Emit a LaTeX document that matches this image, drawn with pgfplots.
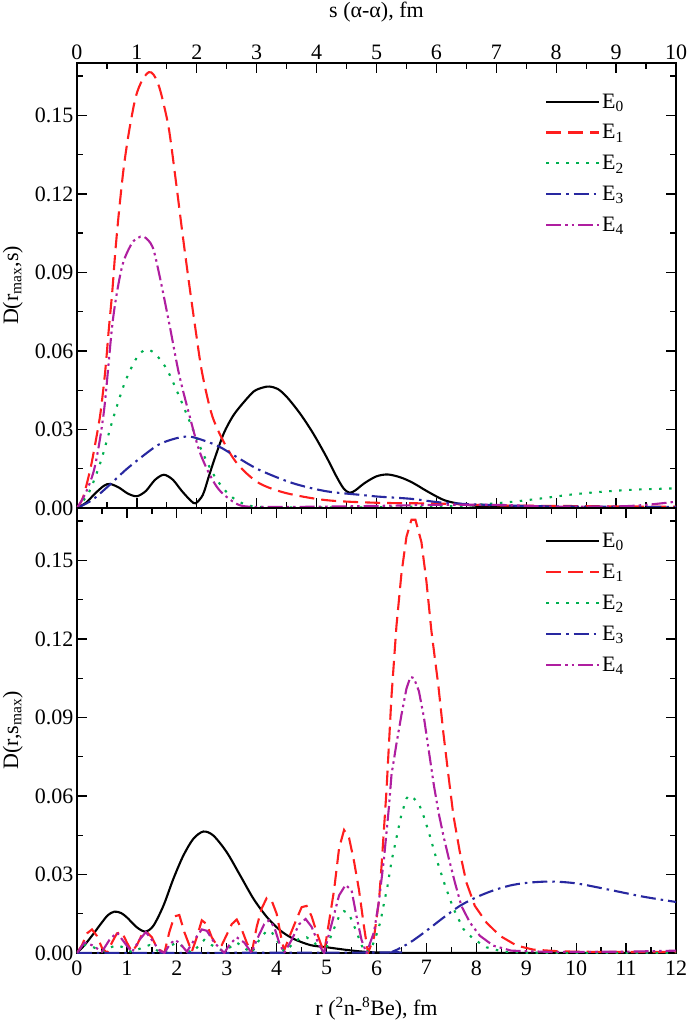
\documentclass[border=0pt]{standalone}
\usepackage{fontspec}
\setmainfont{Liberation Serif}
\usepackage{pgfplots}
\pgfplotsset{compat=1.18}
\definecolor{cred}{RGB}{255,30,30}
\definecolor{cgreen}{RGB}{0,175,80}
\definecolor{cblue}{RGB}{40,40,160}
\definecolor{cmag}{RGB}{175,30,160}
\newcommand{\myfs}{\fontsize{22}{26}\selectfont}
\pgfplotsset{
  common/.style={
    scale only axis, width=599pt, height=445pt,
    ymin=0, ymax=0.17,
    ytick={0,0.03,0.06,0.09,0.12,0.15},
    minor ytick={0.015,0.045,0.075,0.105,0.135,0.165},
    yticklabel style={/pgf/number format/.cd,fixed,fixed zerofill,precision=2},
    /pgf/number format/assume math mode=true,
    minor x tick num=1,
    tick align=inside,
    major tick length=10pt, minor tick length=6pt,
    every tick/.style={black, line width=1.3pt},
    axis line style={line width=1.5pt},
    tick label style={font=\myfs},
    label style={font=\myfs},
    ylabel style={at={(axis description cs:-0.107,0.5)}, anchor=center},
    yticklabel pos=left,
    legend cell align=left,
    legend style={draw=none, fill=none, font=\myfs, row sep=11pt, inner sep=0pt},
    legend image code/.code={\draw[##1] (0pt,0pt) -- (53pt,0pt);},
    every axis plot/.append style={line width=2.1pt},
  },
  s0/.style={black, solid},
  s1/.style={cred, dash pattern=on 15pt off 7pt},
  s2/.style={cgreen, dash pattern=on 2.5pt off 7.5pt},
  s3/.style={cblue, dash pattern=on 15pt off 5pt on 2.5pt off 5pt},
  s4/.style={cmag, dash pattern=on 15pt off 4pt on 2.5pt off 4pt on 2.5pt off 4pt},
}
\pgfplotstableread{
x y
0 0
0.15 0.002
0.3 0.0055
0.45 0.0085
0.55 0.0092
0.7 0.0078
0.85 0.0055
1.0 0.0045
1.15 0.0065
1.3 0.0107
1.45 0.0127
1.6 0.0108
1.75 0.0065
1.9 0.0028
1.98 0.0018
2.1 0.005
2.2 0.012
2.3 0.019
2.45 0.0285
2.6 0.035
2.75 0.0395
2.95 0.0445
3.1 0.046
3.21 0.0464
3.35 0.0455
3.5 0.0425
3.72 0.0362
3.94 0.0286
4.16 0.0197
4.33 0.0121
4.45 0.0075
4.55 0.0058
4.65 0.0068
4.8 0.0095
5.0 0.0121
5.19 0.0128
5.4 0.0117
5.6 0.0097
5.86 0.0062
6.13 0.003
6.41 0.0015
6.7 0.0008
7.2 0.0004
8 0.0001
10 0
}\tA
\pgfplotstableread{
x y
0 0
0.1 0.004
0.22 0.0146
0.3 0.024
0.39 0.036
0.47 0.052
0.53 0.068
0.59 0.083
0.64 0.098
0.7 0.113
0.78 0.13
0.87 0.144
0.98 0.157
1.09 0.1635
1.2 0.1665
1.28 0.1655
1.37 0.161
1.45 0.154
1.54 0.144
1.65 0.125
1.76 0.105
1.87 0.086
1.98 0.068
2.09 0.0515
2.26 0.035
2.49 0.0235
2.71 0.016
3.04 0.0095
3.49 0.0057
4.16 0.003
5.0 0.002
6 0.0017
7 0.001
8 0.0008
9 0.0006
10 0.0005
}\tB
\pgfplotstableread{
x y
0 0
0.2 0.006
0.4 0.018
0.6 0.034
0.8 0.048
1.0 0.0575
1.15 0.0605
1.3 0.059
1.5 0.053
1.7 0.043
1.9 0.032
2.1 0.021
2.3 0.012
2.5 0.006
2.7 0.0025
3.0 0.0005
4 0.0002
5 0.0003
5.5 0.0005
6.0 0.0006
6.4 0.0008
7.0 0.0018
7.4 0.0027
7.8 0.0038
8.2 0.005
8.6 0.0059
9.0 0.0066
9.4 0.0071
10 0.0075
}\tC
\pgfplotstableread{
x y
0 0
0.25 0.003
0.53 0.0085
0.81 0.0145
1.09 0.0197
1.37 0.0243
1.65 0.0266
1.87 0.0273
2.09 0.026
2.37 0.0235
2.65 0.0197
3.04 0.0146
3.6 0.0095
4.16 0.0064
4.74 0.005
5.0 0.0044
5.58 0.0035
6.13 0.002
6.97 0.0011
8 0.0006
10 0.0004
}\tD
\pgfplotstableread{
x y
0 0
0.15 0.006
0.3 0.016
0.45 0.037
0.6 0.072
0.75 0.092
0.9 0.1005
1.0 0.103
1.12 0.1036
1.26 0.0998
1.37 0.0896
1.54 0.0705
1.70 0.0515
1.87 0.036
2.04 0.022
2.21 0.013
2.37 0.007
2.6 0.0025
2.82 0.0006
3.5 0.0004
5 0.0008
6 0.0012
7 0.0012
8 0.0005
9 0.0006
9.5 0.0012
10 0.0024
}\tE
% bottom panel
\pgfplotstableread{
x y
0 0
0.15 0.003
0.3 0.0066
0.5 0.0117
0.62 0.0145
0.75 0.0158
0.88 0.0153
1.0 0.0136
1.2 0.0098
1.37 0.0082
1.53 0.0104
1.73 0.018
1.93 0.0283
2.13 0.0372
2.33 0.0436
2.53 0.0464
2.73 0.0449
3.0 0.0385
3.27 0.0296
3.54 0.0206
3.81 0.0136
4.08 0.0085
4.34 0.0054
4.68 0.003
5.0 0.0022
5.35 0.0013
5.68 0.0006
6.02 0.0002
7 0
12 0
}\bA
\pgfplotstableread{
x y
0 0
0.1 0.003
0.2 0.0075
0.3 0.009
0.4 0.0065
0.5 0.002
0.6 0
0.7 0.004
0.8 0.0075
0.9 0.008
1.0 0.004
1.1 0.0005
1.2 0.003
1.3 0.007
1.4 0.008
1.5 0.006
1.6 0.002
1.75 0
1.85 0.008
1.95 0.014
2.05 0.0145
2.15 0.008
2.3 0.0005
2.4 0.006
2.5 0.0125
2.6 0.011
2.7 0.006
2.8 0.003
2.9 0.003
3.0 0.007
3.1 0.011
3.2 0.0128
3.3 0.009
3.4 0.004
3.5 0
3.6 0.01
3.7 0.017
3.8 0.021
3.9 0.02
4.0 0.015
4.1 0.005
4.15 0.001
4.25 0.006
4.4 0.013
4.5 0.0175
4.6 0.018
4.7 0.014
4.8 0.008
4.95 0
5.05 0.012
5.15 0.024
5.25 0.04
5.35 0.047
5.45 0.044
5.55 0.035
5.65 0.024
5.75 0.01
5.83 0
5.95 0.006
6.05 0.02
6.1 0.033
6.2 0.062
6.3 0.098
6.4 0.125
6.5 0.145
6.6 0.159
6.7 0.1655
6.78 0.1655
6.9 0.157
7.0 0.142
7.1 0.123
7.24 0.102
7.34 0.084
7.44 0.068
7.54 0.0526
7.67 0.0385
7.8 0.027
7.97 0.018
8.2 0.0117
8.47 0.0066
8.81 0.0028
9.14 0.0013
9.7 0.0006
10.5 0.0004
12 0.0004
}\bB
\pgfplotstableread{
x y
0 0
0.15 0.003
0.25 0.003
0.5 0.0005
0.65 0.002
0.8 0.003
0.95 0.002
1.1 0.0003
1.3 0.002
1.45 0.003
1.6 0.001
1.75 0
1.9 0.003
2.0 0.004
2.15 0.002
2.3 0
2.45 0.003
2.55 0.005
2.7 0.003
2.9 0.001
3.05 0.002
3.2 0.004
3.35 0.002
3.5 0
3.65 0.005
3.8 0.0085
3.9 0.008
4.0 0.005
4.15 0.0005
4.3 0.003
4.45 0.0055
4.6 0.006
4.75 0.004
4.95 0
5.1 0.007
5.25 0.014
5.35 0.016
5.45 0.015
5.58 0.009
5.7 0.003
5.78 0
5.9 0.002
5.98 0.0058
6.08 0.012
6.15 0.019
6.22 0.0255
6.3 0.035
6.4 0.044
6.5 0.053
6.6 0.059
6.65 0.0602
6.75 0.059
6.85 0.057
6.95 0.052
7.05 0.046
7.2 0.036
7.37 0.026
7.54 0.017
7.74 0.0092
7.94 0.0054
8.2 0.0022
8.54 0.0005
9 0.0001
12 0
}\bC
\pgfplotstableread{
x y
0 0
6.1 0.0002
6.33 0.0006
6.67 0.004
7.0 0.0085
7.34 0.0135
7.67 0.018
8.0 0.0213
8.34 0.0239
8.68 0.0258
9.01 0.0268
9.48 0.0273
10.0 0.0266
10.68 0.0241
11.35 0.0215
12.0 0.0195
}\bD
\pgfplotstableread{
x y
0 0
0.15 0.004
0.3 0.003
0.5 0.0005
0.65 0.005
0.8 0.0078
0.95 0.004
1.1 0.0003
1.25 0.005
1.38 0.008
1.5 0.005
1.65 0.001
1.75 0
1.85 0.003
1.95 0.005
2.05 0.004
2.2 0.0005
2.35 0.005
2.5 0.009
2.6 0.0085
2.75 0.004
2.95 0
3.05 0.003
3.2 0.006
3.35 0.004
3.5 0
3.6 0.005
3.75 0.011
3.85 0.0125
3.95 0.01
4.05 0.004
4.15 0
4.3 0.005
4.45 0.011
4.58 0.013
4.7 0.01
4.85 0.003
4.95 0
5.1 0.011
5.25 0.022
5.38 0.026
5.5 0.024
5.6 0.014
5.7 0.005
5.8 0
5.95 0.008
6.05 0.02
6.15 0.036
6.25 0.056
6.3 0.068
6.4 0.08
6.5 0.091
6.6 0.101
6.68 0.1055
6.75 0.105
6.85 0.1
6.95 0.09
7.05 0.077
7.15 0.064
7.25 0.053
7.35 0.044
7.45 0.036
7.57 0.027
7.7 0.018
7.87 0.0117
8.07 0.0066
8.34 0.0028
8.7 0.0009
9.5 0.0004
11 0.0005
12 0.0009
}\bE
\begin{document}
\begin{tikzpicture}
\begin{axis}[common, name=top, at={(0,0)}, anchor=south west,
  xmin=0, xmax=10, xtick={0,1,...,10},
  xticklabel pos=upper,
  xlabel={s (α-α), fm},
  xlabel style={at={(axis description cs:0.5,1.1146)}, anchor=center},
  ylabel={D(r\textsubscript{max},s)},
  legend style={at={(0.781,0.936)}, anchor=north west}]
\addplot[s0, smooth, tension=0.5] table {\tA};
\addplot[s1, smooth, tension=0.5] table {\tB};
\addplot[s2, smooth, tension=0.5] table {\tC};
\addplot[s3, smooth, tension=0.5] table {\tD};
\addplot[s4, smooth, tension=0.5] table {\tE};
\legend{E\textsubscript{0},E\textsubscript{1},E\textsubscript{2},E\textsubscript{3},E\textsubscript{4}}
\end{axis}
\begin{axis}[common, at={(top.south west)}, anchor=north west,
  xmin=0, xmax=12, xtick={0,1,...,12},
  xticklabel pos=lower,
  xticklabel style={yshift=-4pt},
  xlabel={r (\textsuperscript{2}n-\textsuperscript{8}Be), fm},
  xlabel style={at={(axis description cs:0.5,-0.1256)}, anchor=center},
  ylabel={D(r,s\textsubscript{max})},
  legend style={at={(0.781,0.948)}, anchor=north west}]
\addplot[s0, smooth, tension=0.5] table {\bA};
\addplot[s1] table {\bB};
\addplot[s2] table {\bC};
\addplot[s3, smooth, tension=0.5] table {\bD};
\addplot[s4] table {\bE};
\legend{E\textsubscript{0},E\textsubscript{1},E\textsubscript{2},E\textsubscript{3},E\textsubscript{4}}
\end{axis}
\pgfresetboundingbox
\useasboundingbox (-77pt,-520pt) rectangle (611pt,508pt);
\end{tikzpicture}
\end{document}
